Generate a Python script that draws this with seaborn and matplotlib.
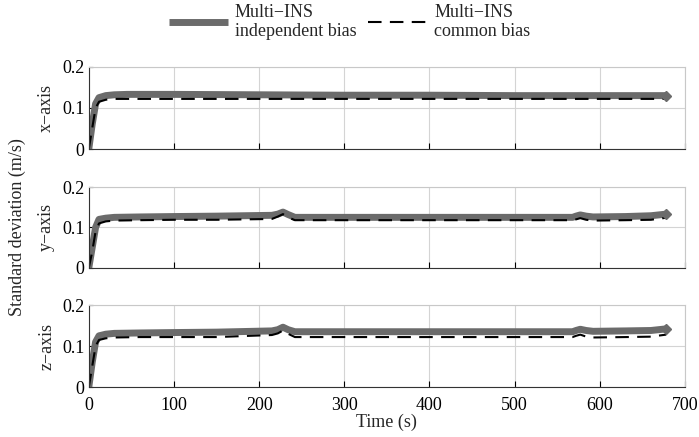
import numpy as np
import pandas as pd
import matplotlib
matplotlib.use("Agg")
import matplotlib.pyplot as plt
import seaborn as sns

# === данные ===
time_x = [0, 4, 8, 12, 20, 30, 45, 100, 200, 300, 400, 500, 600, 678]
x_indep = [0.0, 0.06, 0.11, 0.125, 0.130, 0.132, 0.133, 0.133, 0.132, 0.131, 0.131, 0.130, 0.130, 0.130]
x_common = [0.0, 0.05, 0.10, 0.115, 0.120, 0.122, 0.122, 0.122, 0.122, 0.122, 0.122, 0.122, 0.122, 0.122]

time_yz = [0, 4, 8, 12, 20, 30, 60, 100, 150, 215, 222, 228, 234, 242, 300, 400, 500, 568, 572, 577, 584, 592, 630, 660, 678]
y_indep = [0.0, 0.05, 0.10, 0.120, 0.123, 0.125, 0.126, 0.127, 0.128, 0.130, 0.133, 0.138, 0.132, 0.125, 0.125, 0.125, 0.125, 0.125, 0.128, 0.131, 0.128, 0.126, 0.127, 0.129, 0.133]
y_common = [0.0, 0.04, 0.09, 0.110, 0.115, 0.117, 0.118, 0.119, 0.119, 0.121, 0.127, 0.133, 0.125, 0.118, 0.118, 0.118, 0.118, 0.118, 0.120, 0.123, 0.119, 0.117, 0.118, 0.119, 0.124]
z_indep = [0.0, 0.06, 0.11, 0.125, 0.129, 0.131, 0.132, 0.133, 0.134, 0.137, 0.140, 0.146, 0.140, 0.135, 0.135, 0.135, 0.135, 0.135, 0.138, 0.141, 0.138, 0.136, 0.137, 0.138, 0.142]
z_common = [0.0, 0.05, 0.10, 0.115, 0.119, 0.121, 0.122, 0.122, 0.122, 0.127, 0.131, 0.138, 0.130, 0.122, 0.122, 0.122, 0.122, 0.122, 0.125, 0.128, 0.123, 0.121, 0.122, 0.123, 0.128]

series_names = ["Multi\u2212INS\nindependent bias", "Multi\u2212INS\ncommon bias"]
panel_labels = ["x\u2212axis", "y\u2212axis", "z\u2212axis"]

panels = [
    (time_x, x_indep, x_common),
    (time_yz, y_indep, y_common),
    (time_yz, z_indep, z_common),
]

sns.set_style("white")
plt.rcParams["font.family"] = ["Liberation Serif", "DejaVu Serif"]

FS = 13

fig = plt.figure(figsize=(6.99, 4.37), dpi=100)
boxes = [
    [0.127, 0.659, 0.853, 0.188],
    [0.127, 0.387, 0.853, 0.185],
    [0.127, 0.114, 0.853, 0.188],
]

palette = {series_names[0]: "#6b6b6b", series_names[1]: "black"}
handles = None
for i, ((t, indep, common), box) in enumerate(zip(panels, boxes)):
    ax = fig.add_axes(box)
    df = pd.DataFrame({
        "time": list(t) * 2,
        "value": list(indep) + list(common),
        "series": [series_names[0]] * len(t) + [series_names[1]] * len(t),
    })
    sns.lineplot(data=df, x="time", y="value", hue="series", style="series",
                 palette=palette, dashes={series_names[0]: "", series_names[1]: (6.5, 4)},
                 ax=ax, legend=False, estimator=None, sort=False)
    ax.lines[0].set_linewidth(5)
    ax.lines[0].set_solid_capstyle("butt")
    ax.lines[1].set_linewidth(1.5)
    # маркер на конце толстой линии
    ax.plot(t[-1], indep[-1], marker="D", ms=5.5, color="#6b6b6b", zorder=3)

    ax.set_xlim(0, 700)
    ax.set_ylim(0, 0.2)
    ax.set_yticks([0, 0.1, 0.2])
    ax.set_yticklabels(["0", "0.1", "0.2"])
    ax.set_xticks(range(0, 701, 100))
    ax.grid(True, color="#d4d4d4", linewidth=0.8)
    ax.set_axisbelow(True)
    ax.tick_params(direction="in", length=4, labelsize=FS, colors="black",
                   left=True, bottom=True)
    ax.tick_params(axis="x", pad=7)
    ax.tick_params(axis="y", length=3, pad=3)
    for side in ["top", "right"]:
        ax.spines[side].set_color("#c8c8c8")
    for side in ["left", "bottom"]:
        ax.spines[side].set_color("#333333")
    ax.set_ylabel(panel_labels[i], fontsize=FS, labelpad=5)
    ax.set_xlabel("")
    if i < 2:
        ax.set_xticklabels([])
    else:
        ax.set_xlabel("Time (s)", fontsize=FS, labelpad=0)
    if handles is None:
        handles = [ax.lines[0], ax.lines[1]]

fig.text(0.025, 0.48, "Standard deviation (m/s)", rotation=90, fontsize=FS,
         ha="center", va="center")

fig.legend(handles, series_names, loc="center", bbox_to_anchor=(0.5, 0.95),
           ncol=2, frameon=False, fontsize=FS, handlelength=3.3,
           columnspacing=0.65, handletextpad=0.35, borderaxespad=0)

fig.savefig("out.png", dpi=100)
